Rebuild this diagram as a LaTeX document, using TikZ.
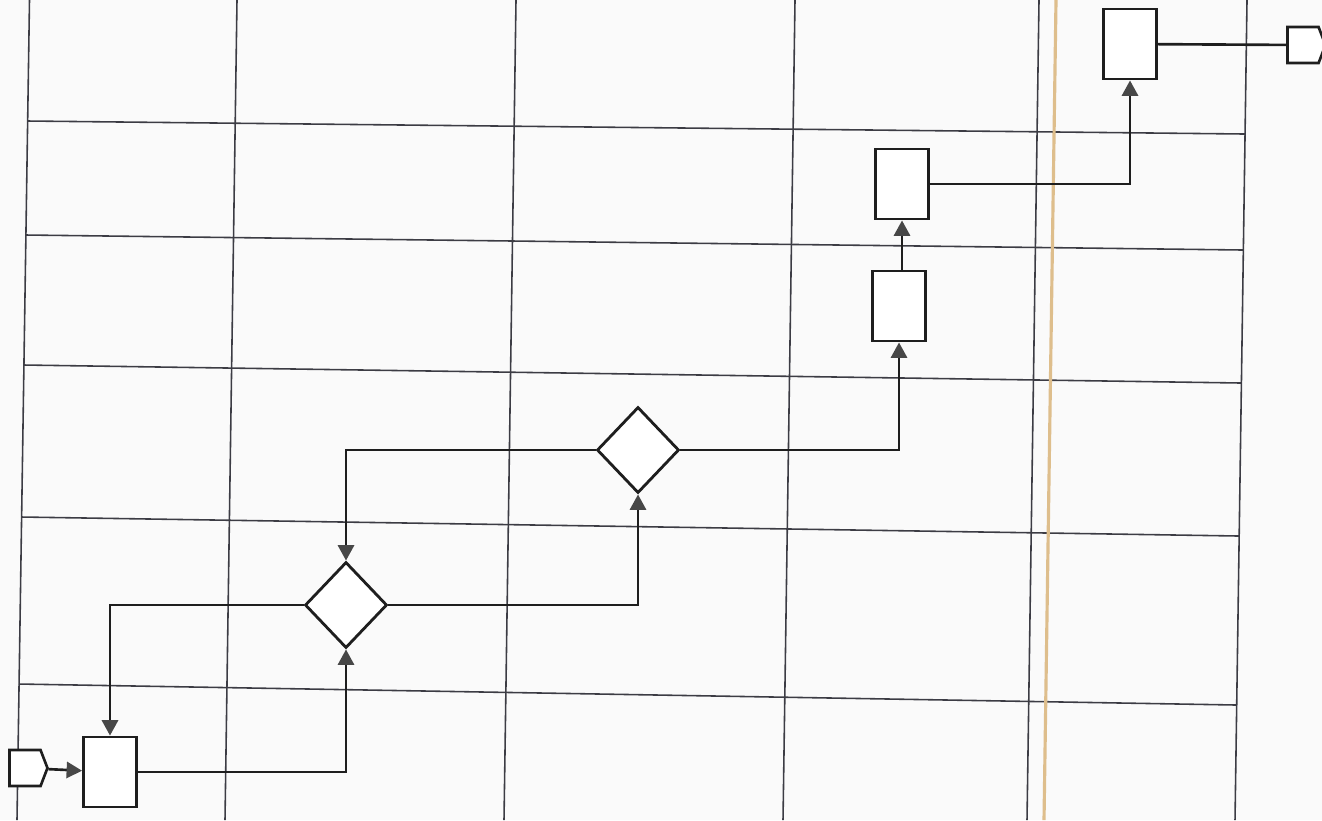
\documentclass[tikz,border=0pt]{standalone}
\usepackage{tikz}
\usetikzlibrary{arrows.meta, shapes.geometric, shapes.symbols}
\definecolor{scanline}{HTML}{3C3C44}
\definecolor{inkline}{HTML}{1E1E1E}
\definecolor{tanline}{HTML}{DEBE8C}
\tikzset{
    gridline/.style={draw=scanline, line width=0.45pt},
    box/.style={rectangle, draw=inkline, fill=white, line width=0.8pt, inner sep=0pt,
        minimum width=0.53cm, minimum height=0.70cm},
    decision/.style={diamond, draw=inkline, fill=white, line width=0.8pt, inner sep=0pt,
        minimum width=0.82cm, minimum height=0.86cm},
    terminal/.style={signal, signal to=east, signal pointer angle=138, draw=inkline,
        fill=white, line width=0.75pt, inner sep=0pt, minimum width=0.38cm, minimum height=0.36cm},
    flow/.style={draw=inkline, line width=0.75pt,
        -{Triangle[length=4.4pt, width=4.6pt, color=black!72]}}
}

\begin{document}
\begin{tikzpicture}[x=0.01cm, y=-0.01cm]
            % Paper
            \fill[black!2] (0,0) rectangle (1322,820);
            \useasboundingbox (0,0) rectangle (1322,820);

            % Grid columns (top x / bottom x)
            \foreach \xt/\xb in {29.5/17, 237/225, 516/504, 795/783, 1039/1027, 1247/1235}
                \draw[gridline] (\xt,0) -- (\xb,820);

            % Grid rows (left y / right y / left x / right x)
            \foreach \yl/\yr/\xl/\xr in {121/134/27.7/1245, 235/250/26/1243.3,
                    365/383/24/1241.4, 517/536/21.6/1239, 684/705/19/1236.7}
                \draw[gridline] (\xl,\yl) -- (\xr,\yr);

            % Boundary marker
            \draw[tanline, line width=0.9pt] (1056,0) -- (1044,820);

            % Nodes
            \node[terminal] (in) at (25, 768) {};
            \node[box] (b1) at (110, 772) {};
            \node[decision] (d1) at (346, 605) {};
            \node[decision] (d2) at (638, 450) {};
            \node[box] (b3) at (899, 306) {};
            \node[box] (b4) at (902, 184) {};
            \node[box] (b5) at (1130, 44) {};
            \node[terminal] (out) at (1303, 45) {};

            % Edges
            \draw[flow] (in) -- (b1);
            \draw[flow] (b1) -| (d1);
            \draw[flow] (d1) -| (d2);
            \draw[flow] (d2) -| (d1);
            \draw[flow] (d1) -| (b1);
            \draw[flow] (d2) -| (b3);
            \draw[flow] (b3.north -| b4.south) -- (b4.south);
            \draw[flow] (b4) -| (b5);
            \draw[draw=inkline, line width=0.75pt] (b5) -- (out);
        \end{tikzpicture}
\end{document}
